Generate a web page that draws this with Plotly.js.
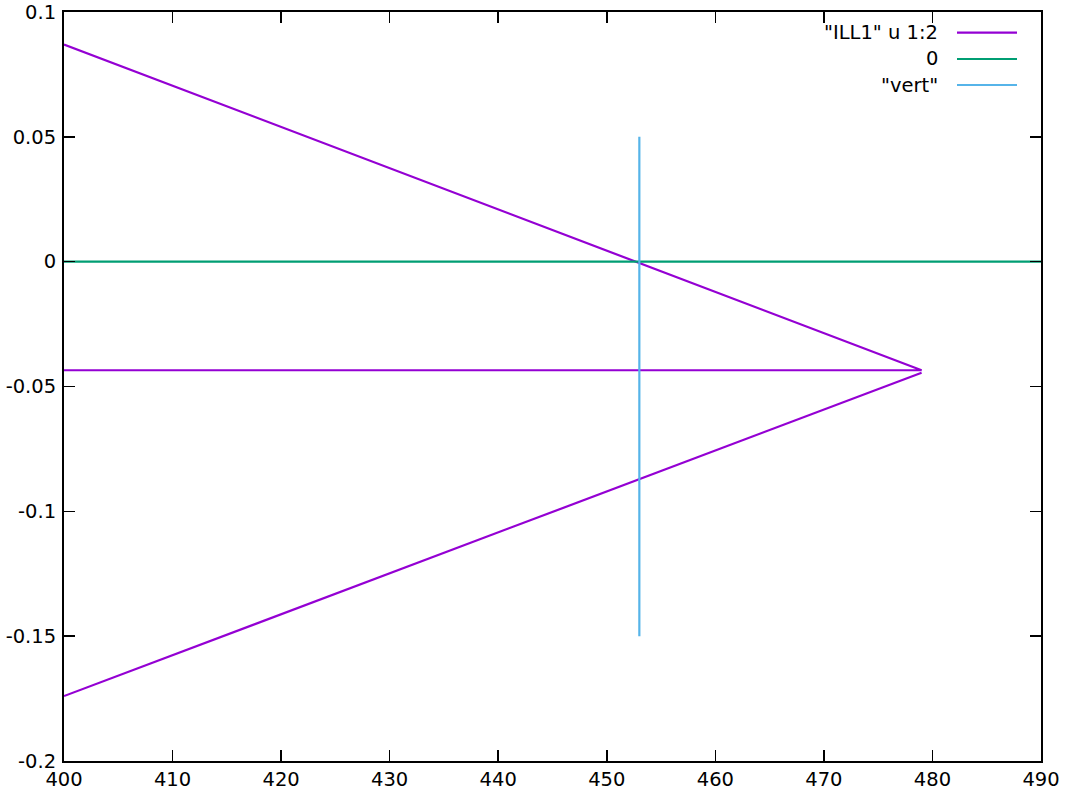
<!DOCTYPE html>
<html>
<head>
<meta charset="utf-8">
<script src="https://cdn.plot.ly/plotly-3.0.1.min.js"></script>
<style>html,body{margin:0;padding:0;background:#fff;}#chart{width:1065px;height:795px;}</style>
</head>
<body>
<div id="chart"></div>
<script>
// Data
const illX = [400, 479, 400, null, 479, 400];
const illY = [0.087, -0.0435, -0.0435, null, -0.0445, -0.174];
const zeroX = [400, 490];
const zeroY = [0, 0];
const vertX = [453, 453];
const vertY = [0.05, -0.15];
const seriesNames = ['"ILL1" u 1:2', '0', '"vert"'];
const seriesColors = ['#9400d3', '#009e73', '#56b4e9'];
const xTicks = [400, 410, 420, 430, 440, 450, 460, 470, 480, 490];
const yTicks = [-0.2, -0.15, -0.1, -0.05, 0, 0.05, 0.1];
const yTickText = ['-0.2', '-0.15', '-0.1', '-0.05', '0', '0.05', '0.1'];

const font = {family: 'DejaVu Sans, sans-serif', size: 19.5, color: '#000'};

const traces = [
  {x: illX, y: illY, mode: 'lines', name: seriesNames[0], line: {color: seriesColors[0], width: 2.2}, connectgaps: false},
  {x: zeroX, y: zeroY, mode: 'lines', name: seriesNames[1], line: {color: seriesColors[1], width: 2.2}},
  {x: vertX, y: vertY, mode: 'lines', name: seriesNames[2], line: {color: seriesColors[2], width: 2.2}}
];

// Custom gnuplot-style legend: right-aligned text, sample line on the right
const legendRowsY = [32.7, 59, 85];
const plotTop = 12, plotH = 749, plotLeft = 64, plotW = 977;
const annotations = [], shapes = [];
seriesNames.forEach((n, i) => {
  const yp = 1 - (legendRowsY[i] - plotTop) / plotH;
  annotations.push({xref: 'paper', yref: 'paper', x: (939 - plotLeft) / plotW, y: yp,
    xanchor: 'right', yanchor: 'middle', text: n, showarrow: false, font: font, borderpad: 0});
  shapes.push({type: 'line', xref: 'paper', yref: 'paper',
    x0: (957 - plotLeft) / plotW, x1: (1017 - plotLeft) / plotW, y0: yp, y1: yp,
    line: {color: seriesColors[i], width: 2.2}});
});

const layout = {
  width: 1065, height: 795,
  margin: {l: 64, r: 24, t: 12, b: 34},
  paper_bgcolor: '#fff', plot_bgcolor: '#fff',
  showlegend: false,
  font: font,
  xaxis: {range: [400, 490], tickvals: xTicks, ticks: 'inside', ticklen: 11, tickwidth: 1.5,
    tickcolor: '#000', showline: true, linecolor: '#000', linewidth: 2, mirror: 'allticks',
    showgrid: false, zeroline: false, tickfont: font, ticklabelstandoff: 0, ticklabeloverflow: 'allow'},
  yaxis: {range: [-0.2, 0.1000001], tickvals: yTicks, ticktext: yTickText, ticks: 'inside', ticklen: 11, tickwidth: 1.5,
    tickcolor: '#000', showline: true, linecolor: '#000', linewidth: 2, mirror: 'allticks',
    showgrid: false, zeroline: false, tickfont: font, ticklabelstandoff: 2, ticklabeloverflow: 'allow'},
  annotations: annotations,
  shapes: shapes
};

Plotly.newPlot('chart', traces, layout, {displayModeBar: false, staticPlot: true});
</script>
</body>
</html>
